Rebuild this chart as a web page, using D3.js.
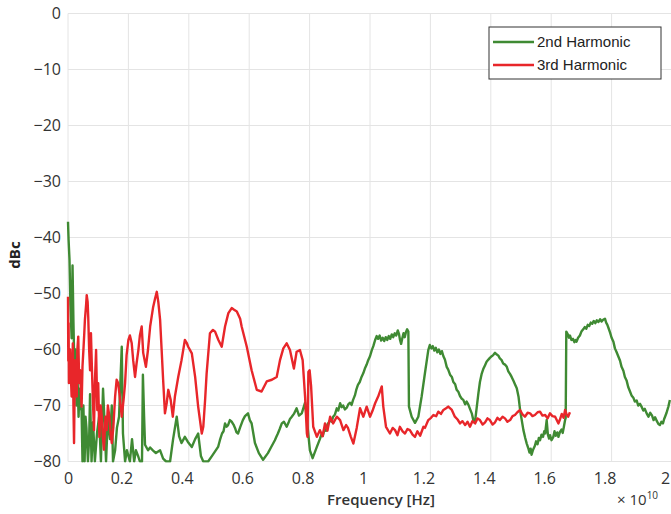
<!DOCTYPE html>
<html>
<head>
<meta charset="utf-8">
<script src="https://cdnjs.cloudflare.com/ajax/libs/d3/7.8.5/d3.min.js"></script>
<style>
  body { margin: 0; background: #fff; }
  svg { display: block; }
  .tick text { font-family: "Open Sans", sans-serif; font-size: 16px; fill: #333; }
</style>
</head>
<body>
<div id="chart"></div>
<script>
// frequency in units of 1e10 Hz, level in dBc
const freq2nd = [
  0.000, 0.002, 0.005, 0.008, 0.012, 0.015, 0.018, 0.022, 0.025, 0.028,
  0.031, 0.035, 0.038, 0.041, 0.045, 0.048, 0.051, 0.055, 0.058, 0.061,
  0.066, 0.070, 0.073, 0.078, 0.083, 0.089, 0.096, 0.103, 0.109, 0.116,
  0.121, 0.126, 0.132, 0.139, 0.145, 0.149, 0.156, 0.162, 0.169, 0.178,
  0.182, 0.189, 0.195, 0.205, 0.212, 0.219, 0.225, 0.232, 0.238, 0.245,
  0.248, 0.252, 0.255, 0.265, 0.272, 0.281, 0.291, 0.305, 0.315, 0.325,
  0.338, 0.348, 0.360, 0.368, 0.376, 0.387, 0.397, 0.410, 0.421, 0.431,
  0.440, 0.448, 0.464, 0.477, 0.497, 0.503, 0.510, 0.515, 0.520, 0.525,
  0.530, 0.536, 0.542, 0.548, 0.553, 0.558, 0.563, 0.570, 0.579, 0.586,
  0.596, 0.602, 0.608, 0.619, 0.632, 0.646, 0.662, 0.672, 0.685, 0.690,
  0.695, 0.701, 0.708, 0.715, 0.724, 0.730, 0.735, 0.741, 0.748, 0.757,
  0.765, 0.774, 0.785, 0.791, 0.801, 0.810, 0.824, 0.834, 0.839, 0.844,
  0.849, 0.854, 0.859, 0.868, 0.873, 0.878, 0.884, 0.890, 0.895, 0.901,
  0.906, 0.911, 0.917, 0.923, 0.928, 0.934, 0.939, 0.944, 0.950, 0.955,
  0.960, 0.966, 0.972, 0.978, 0.983, 0.989, 0.994, 1.000, 1.006, 1.011,
  1.017, 1.022, 1.027, 1.032, 1.037, 1.042, 1.047, 1.052, 1.057, 1.062,
  1.067, 1.072, 1.077, 1.082, 1.087, 1.092, 1.096, 1.099, 1.103, 1.107,
  1.111, 1.115, 1.119, 1.123, 1.127, 1.129, 1.138, 1.149, 1.160, 1.171,
  1.182, 1.193, 1.198, 1.203, 1.208, 1.213, 1.218, 1.223, 1.228, 1.233,
  1.238, 1.243, 1.248, 1.254, 1.259, 1.265, 1.271, 1.276, 1.282, 1.287,
  1.293, 1.298, 1.304, 1.309, 1.315, 1.320, 1.326, 1.331, 1.337, 1.342,
  1.348, 1.359, 1.364, 1.370, 1.375, 1.381, 1.386, 1.392, 1.397, 1.403,
  1.408, 1.414, 1.420, 1.425, 1.430, 1.436, 1.441, 1.447, 1.453, 1.458,
  1.464, 1.469, 1.475, 1.480, 1.486, 1.492, 1.497, 1.503, 1.508, 1.514,
  1.519, 1.524, 1.528, 1.532, 1.535, 1.540, 1.546, 1.550, 1.555, 1.559,
  1.563, 1.568, 1.573, 1.577, 1.580, 1.585, 1.589, 1.593, 1.596, 1.601,
  1.607, 1.611, 1.615, 1.620, 1.624, 1.629, 1.634, 1.638, 1.642, 1.646,
  1.648, 1.650, 1.655, 1.659, 1.662, 1.667, 1.672, 1.677, 1.681, 1.684,
  1.689, 1.695, 1.700, 1.706, 1.711, 1.716, 1.721, 1.726, 1.731, 1.736,
  1.741, 1.746, 1.751, 1.756, 1.762, 1.767, 1.772, 1.778, 1.782, 1.786,
  1.790, 1.795, 1.800, 1.806, 1.811, 1.816, 1.822, 1.828, 1.833, 1.839,
  1.844, 1.850, 1.855, 1.861, 1.866, 1.872, 1.877, 1.883, 1.888, 1.894,
  1.900, 1.905, 1.910, 1.916, 1.922, 1.928, 1.934, 1.939, 1.944, 1.950,
  1.955, 1.960, 1.965, 1.970, 1.974, 1.977, 1.982, 1.988, 1.993
];
const level2nd = [
  -37.2, -40.5, -44, -52, -58, -45, -55, -66, -60, -70,
  -64, -72, -67, -70, -71, -80, -70, -80, -72, -74,
  -80, -76, -68, -80, -73, -80, -75, -72, -80, -67,
  -73, -80, -72, -76, -70, -80, -78, -74, -72, -59.5,
  -75, -80, -78, -80, -76, -80, -78, -79, -80, -80,
  -64.5, -72, -77, -78, -77.5, -78, -78.5, -78, -79.5, -80,
  -80, -76, -72, -75.5, -76.7, -75.6, -76.5, -77.4, -76, -75,
  -79, -80, -80, -79, -77.4, -76.2, -75, -74.6, -73.2, -73.8,
  -73.5, -72.6, -72.9, -73.4, -74, -74.8, -75, -73.9, -72.6, -71.9,
  -71.4, -72.6, -73.2, -76.7, -78.5, -79.7, -78.5, -77.5, -76.2, -75.6,
  -75, -74.2, -73.2, -72.9, -73.8, -73.1, -72.4, -72, -71.5, -70.5,
  -71.8, -71.4, -69.5, -72.5, -78, -79.4, -77.4, -76, -75.2, -75.4,
  -74.3, -74.5, -73.4, -72.6, -72.9, -72, -71.6, -70.5, -70.9, -69.6,
  -70.3, -70, -70.7, -70.4, -69.8, -69.5, -69.9, -69, -68.2, -67.1,
  -66.3, -65.8, -64.9, -64.2, -63.4, -62.7, -61.9, -61.2, -60.1, -59.4,
  -58.3, -57.6, -58.1, -57.5, -58.4, -57.9, -58.5, -57.8, -58.3, -57.6,
  -58.1, -57.3, -57.8, -57.1, -57.5, -56.6, -57.2, -58.2, -59, -58,
  -57.1, -57.8, -56.9, -56.4, -56.8, -70.2, -72, -73.1, -72, -68.4,
  -64.2, -60.1, -59.2, -59.8, -59.4, -60.2, -59.7, -60.5, -60, -60.8,
  -60.3, -61.2, -61.8, -63.1, -63.6, -64.5, -64.9, -65.8, -66.2, -67.2,
  -67.6, -68.3, -68.8, -69, -69.8, -69.3, -69.9, -70.6, -71.4, -72.6,
  -72.8, -67.8, -65.8, -64.3, -63.5, -62.8, -62.2, -61.8, -61.5, -61.2,
  -61, -60.6, -60.9, -61.1, -61.6, -61.9, -62.5, -62.7, -63.1, -63.9,
  -64.4, -64.9, -65.6, -66.2, -66.9, -68.5, -70.8, -72.8, -74.4, -75.8,
  -76.8, -77.6, -78.4, -77.7, -78.8, -77.9, -77.2, -76.4, -76.9, -75.8,
  -76.2, -75.2, -75.6, -74.6, -75, -72.6, -75.2, -75.9, -75.3, -76.2,
  -75.6, -74.6, -75.4, -74.8, -75.6, -74.7, -74.3, -74.9, -73.8, -72.6,
  -72.2, -56.8, -57.3, -57.9, -57.5, -58.3, -58.1, -58.7, -58.3, -58.6,
  -57.9, -57.5, -56.8, -56.4, -56, -56.3, -55.6, -55.8, -55.2, -55.4,
  -54.9, -55.3, -54.8, -55.1, -54.6, -55, -54.7, -54.5, -55.2, -55.6,
  -56.2, -57, -57.9, -58.6, -59.8, -60.4, -61.2, -62, -63.1, -63.8,
  -64.9, -65.6, -66.7, -67.5, -68.2, -68.6, -69.3, -69.1, -70, -69.7,
  -70.3, -70.9, -70.6, -71.4, -72, -71.3, -71.8, -72.6, -72.1, -72.8,
  -73.3, -73.5, -72.9, -73.2, -72.4, -72, -71.3, -70.2, -69
];

const freq3rd = [0.000, 0.001, 0.002, 0.003, 0.007, 0.009, 0.012, 0.016, 0.018, 0.020, 0.023, 0.026, 0.029, 0.031, 0.034, 0.037, 0.040, 0.043, 0.045, 0.048, 0.051, 0.054, 0.056, 0.060, 0.062, 0.065, 0.067, 0.070, 0.073, 0.076, 0.079, 0.082, 0.086, 0.089, 0.093, 0.097, 0.100, 0.104, 0.108, 0.112, 0.116, 0.119, 0.124, 0.128, 0.132, 0.137, 0.141, 0.145, 0.150, 0.156, 0.161, 0.166, 0.170, 0.178, 0.184, 0.189, 0.194, 0.200, 0.205, 0.211, 0.216, 0.222, 0.227, 0.233, 0.238, 0.244, 0.249, 0.258, 0.265, 0.272, 0.282, 0.288, 0.294, 0.299, 0.305, 0.310, 0.315, 0.321, 0.327, 0.332, 0.340, 0.347, 0.354, 0.365, 0.376, 0.387, 0.393, 0.398, 0.410, 0.421, 0.431, 0.443, 0.448, 0.454, 0.459, 0.470, 0.480, 0.487, 0.498, 0.509, 0.520, 0.531, 0.542, 0.550, 0.559, 0.570, 0.575, 0.592, 0.608, 0.625, 0.641, 0.658, 0.675, 0.691, 0.702, 0.713, 0.724, 0.735, 0.748, 0.757, 0.768, 0.777, 0.785, 0.791, 0.793, 0.796, 0.800, 0.805, 0.812, 0.824, 0.834, 0.843, 0.851, 0.859, 0.868, 0.878, 0.890, 0.901, 0.912, 0.921, 0.927, 0.936, 0.945, 0.956, 0.967, 0.978, 0.989, 1.000, 1.008, 1.017, 1.027, 1.039, 1.044, 1.053, 1.066, 1.075, 1.083, 1.091, 1.099, 1.108, 1.116, 1.124, 1.132, 1.141, 1.149, 1.157, 1.166, 1.177, 1.182, 1.193, 1.202, 1.210, 1.219, 1.226, 1.235, 1.243, 1.252, 1.259, 1.271, 1.281, 1.290, 1.298, 1.306, 1.315, 1.323, 1.331, 1.339, 1.348, 1.356, 1.364, 1.373, 1.381, 1.389, 1.397, 1.406, 1.414, 1.422, 1.430, 1.439, 1.447, 1.455, 1.464, 1.472, 1.480, 1.488, 1.497, 1.505, 1.513, 1.522, 1.530, 1.538, 1.546, 1.555, 1.563, 1.571, 1.580, 1.588, 1.596, 1.604, 1.613, 1.624, 1.629, 1.635, 1.641, 1.646, 1.651, 1.656, 1.662];
const level3rd = [-50.6, -62, -55.3, -66, -60, -64, -68.4, -58.9, -70, -76.7, -61.9, -66, -68.4, -60, -57.7, -66, -63.7, -68, -70.2, -63, -60.1, -57, -54.7, -52, -50.3, -51.5, -54.2, -60, -63.7, -57.1, -63, -68.4, -74.4, -66, -60.1, -70.8, -66, -75.6, -70, -72, -76, -77.9, -72, -74.4, -70, -72, -75, -76.7, -74, -68.4, -65.4, -66, -67.8, -72, -69, -66, -61, -58.3, -57.5, -58.9, -62, -64.9, -62.5, -60.1, -57.5, -55.9, -60.6, -63.1, -60, -55.9, -52.4, -51, -49.7, -51.5, -54.7, -60, -65.4, -71.4, -69.5, -67.2, -69, -72, -68.4, -64.9, -61.9, -58.3, -58.8, -59.5, -60.7, -64.9, -70.2, -75, -73.8, -69, -64.3, -57.1, -56.5, -56.8, -58.3, -59.5, -55.9, -53.5, -52.6, -52.9, -53.2, -54.5, -55.9, -59.5, -63.7, -67.2, -67.5, -65.7, -65.4, -64.9, -61.9, -59.8, -58.9, -60.1, -63.4, -60.4, -60.1, -61.9, -68.4, -75, -75.6, -64, -63.7, -66.6, -73.8, -75.6, -74.4, -75.5, -73.2, -74.5, -72, -73.2, -72, -72.6, -74.4, -73.5, -74, -75.5, -76.8, -74, -70.5, -72, -70.2, -72, -71, -69.6, -68.4, -66.6, -70.2, -73.8, -75, -74, -74.4, -75.3, -73.8, -74.6, -75, -74.2, -74.4, -75.2, -75.6, -74.6, -75.4, -73.8, -74, -72.6, -72.2, -71.7, -71.9, -71.1, -71.5, -70.8, -70.5, -70.2, -70.8, -72, -72.5, -73.2, -72.8, -73.5, -72.9, -73.8, -72.8, -73.2, -72.3, -72.6, -73.4, -73, -72.3, -72.6, -73.4, -73, -72.2, -72.6, -72, -72.3, -72.9, -72.6, -71.9, -71.7, -71.2, -70.8, -71.6, -72, -71.3, -71.4, -71.9, -71.7, -71.2, -71.1, -71.8, -71.7, -72.3, -71.4, -71.9, -72, -73.2, -72.5, -71.5, -72.2, -70.8, -71.6, -72, -71.2];

const xTicks = [0, 0.2, 0.4, 0.6, 0.8, 1, 1.2, 1.4, 1.6, 1.8, 2];
const yTicks = [0, -10, -20, -30, -40, -50, -60, -70, -80];
const seriesNames = ["2nd Harmonic", "3rd Harmonic"];

const width = 671;
const height = 514;
const margin = { top: 13.5, right: -1, bottom: 52.5, left: 68 };

const svg = d3
  .select("#chart")
  .append("svg")
  .attr("width", width)
  .attr("height", height);

const x = d3
  .scaleLinear()
  .domain([0, 2])
  .range([margin.left, width - margin.right]);

const y = d3
  .scaleLinear()
  .domain([-80, 0])
  .range([height - margin.bottom, margin.top]);

// grid
svg
  .append("g")
  .selectAll("line")
  .data(xTicks)
  .enter()
  .append("line")
  .attr("x1", d => x(d))
  .attr("x2", d => x(d))
  .attr("y1", y(0))
  .attr("y2", y(-80))
  .attr("stroke", "#e4e4e4")
  .attr("stroke-width", 1);

svg
  .append("g")
  .selectAll("line")
  .data(yTicks)
  .enter()
  .append("line")
  .attr("x1", x(0))
  .attr("x2", width)
  .attr("y1", d => y(d))
  .attr("y2", d => y(d))
  .attr("stroke", "#e4e4e4")
  .attr("stroke-width", 1);

// axes (labels only)
const xAxis = svg
  .append("g")
  .attr("transform", "translate(0," + y(-80) + ")")
  .call(d3.axisBottom(x).tickValues(xTicks).tickSize(0).tickPadding(11).tickFormat(d3.format("")));
xAxis.select(".domain").remove();
// labels sit a little left of their grid lines in the original
xAxis.selectAll(".tick text").attr("dx", d => (d === 0 ? 0 : -7));

const yAxis = svg
  .append("g")
  .attr("transform", "translate(" + x(0) + ",0)")
  .call(d3.axisLeft(y).tickValues(yTicks).tickSize(0).tickPadding(7));
yAxis.select(".domain").remove();

// curves
svg
  .append("clipPath")
  .attr("id", "plot-clip")
  .append("rect")
  .attr("x", x(0) - 2)
  .attr("y", y(0))
  .attr("width", width - x(0) + 2)
  .attr("height", y(-80) - y(0) + 1);

const line = d3
  .line()
  .x(d => x(d[0]))
  .y(d => y(d[1]));

const data2nd = freq2nd.map((f, i) => [f, level2nd[i]]);
const data3rd = freq3rd.map((f, i) => [f, level3rd[i]]);

const color = d3.scaleOrdinal().domain(seriesNames).range(["#3f8a33", "#e8262a"]);

const plot = svg.append("g").attr("clip-path", "url(#plot-clip)");

plot
  .append("path")
  .datum(data2nd)
  .attr("d", line)
  .attr("fill", "none")
  .attr("stroke", color(seriesNames[0]))
  .attr("stroke-width", 2.4)
  .attr("stroke-linejoin", "round");

plot
  .append("path")
  .datum(data3rd)
  .attr("d", line)
  .attr("fill", "none")
  .attr("stroke", color(seriesNames[1]))
  .attr("stroke-width", 2.4)
  .attr("stroke-linejoin", "round");

// axis titles
svg
  .append("text")
  .attr("x", 381)
  .attr("y", 505)
  .attr("text-anchor", "middle")
  .style("font-family", "'Open Sans', sans-serif")
  .style("font-size", "15px")
  .style("font-weight", "600")
  .style("fill", "#333")
  .text("Frequency [Hz]");

svg
  .append("text")
  .attr("transform", "translate(20,255) rotate(-90)")
  .attr("text-anchor", "middle")
  .style("font-family", "'Open Sans', sans-serif")
  .style("font-size", "15px")
  .style("font-weight", "bold")
  .style("fill", "#222")
  .text("dBc");

const mult = svg
  .append("text")
  .attr("x", 617)
  .attr("y", 505)
  .style("font-family", "'Open Sans', sans-serif")
  .style("font-size", "15px")
  .style("fill", "#333");
mult.append("tspan").text("× 10");
mult.append("tspan").attr("dy", -6).style("font-size", "10px").text("10");

// legend
const legend = svg.append("g").attr("transform", "translate(489,27)");

legend
  .append("rect")
  .attr("width", 172)
  .attr("height", 52)
  .attr("fill", "#fff")
  .attr("stroke", "#333")
  .attr("stroke-width", 1);

const item = legend
  .selectAll(".legend")
  .data(seriesNames)
  .enter()
  .append("g")
  .attr("class", "legend")
  .attr("transform", (d, i) => "translate(0," + (15 + i * 23) + ")");

item
  .append("line")
  .attr("x1", 4)
  .attr("x2", 45)
  .attr("stroke", d => color(d))
  .attr("stroke-width", 2.5);

item
  .append("text")
  .attr("x", 48)
  .attr("dy", ".35em")
  .style("font-family", "'Liberation Sans', Arial, sans-serif")
  .style("font-size", "15px")
  .style("fill", "#222")
  .text(d => d);
</script>
</body>
</html>
